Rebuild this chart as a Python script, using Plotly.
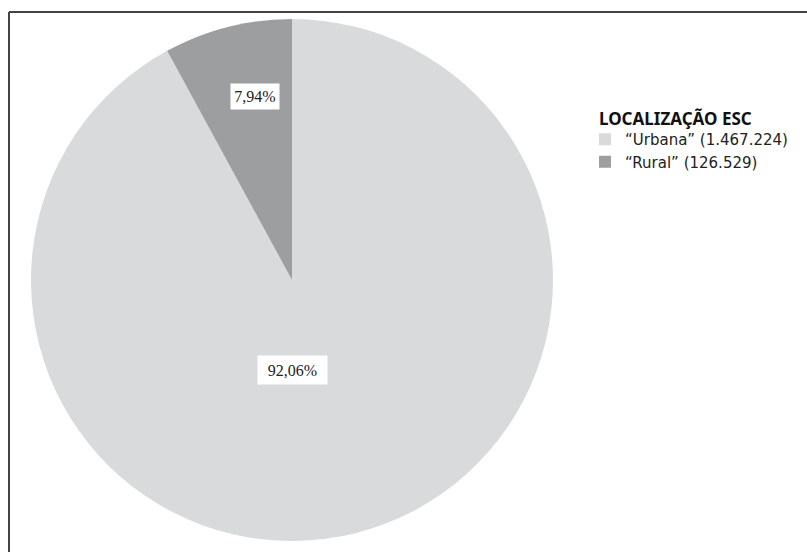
import math
import plotly.graph_objects as go

W, H = 807, 552

categories = ["“Urbana” (1.467.224)", "“Rural” (126.529)"]
values = [1467224, 126529]
pct_labels = ["92,06%", "7,94%"]
colors = ["#d9dadb", "#9d9ea0"]
legend_title = "LOCALIZAÇÃO ESC"

# pie geometry (pixels)
cx, cy, diam = 292, 280, 522

def px_to_paper_x(px):
    return px / W

def px_to_paper_y(py):
    return 1 - py / H

fig = go.Figure()
fig.add_trace(go.Pie(
    labels=categories,
    values=values,
    sort=False,
    direction="clockwise",
    rotation=0,
    marker=dict(colors=colors, line=dict(width=0)),
    textinfo="none",
    hoverinfo="label+percent",
    domain=dict(
        x=[px_to_paper_x(cx - diam / 2), px_to_paper_x(cx + diam / 2)],
        y=[px_to_paper_y(cy + diam / 2), px_to_paper_y(cy - diam / 2)],
    ),
))

# label positions derived from slice angles
total = sum(values)
R = diam / 2
rural_frac = values[1] / total
ang = -rural_frac * math.pi * 0.85
rx = cx + math.sin(ang) * R * 0.72 + 3
ry = cy - math.cos(ang) * R * 0.72
ux = cx + 0.5
uy = cy + R * 0.345

annots = []
for (x, y, t, w, h) in [(ux, uy, pct_labels[0], 69, 28), (rx, ry, pct_labels[1], 48, 25)]:
    annots.append(dict(
        x=px_to_paper_x(x), y=px_to_paper_y(y), xref="paper", yref="paper",
        xanchor="center", yanchor="middle",
        text=t, showarrow=False, bgcolor="white",
        width=w, height=h, borderpad=0, align="center", valign="middle",
        font=dict(family="Liberation Serif, DejaVu Serif, serif", size=16, color="#222"),
    ))

# legend title as text
annots.append(dict(
    x=px_to_paper_x(597), y=px_to_paper_y(118), xref="paper", yref="paper",
    xanchor="left", yanchor="middle", showarrow=False,
    text="<b>" + legend_title + "</b>",
    font=dict(family="Noto Sans", size=17, color="#111"),
))

fig.update_layout(
    width=W, height=H,
    margin=dict(l=0, r=0, t=0, b=0),
    paper_bgcolor="white",
    plot_bgcolor="white",
    annotations=annots,
    showlegend=True,
    legend=dict(
        x=px_to_paper_x(585), y=px_to_paper_y(123),
        xanchor="left", yanchor="top",
        font=dict(family="DejaVu Sans", size=15, color="#222"),
        itemsizing="constant",
        tracegroupgap=0,
        bgcolor="rgba(0,0,0,0)",
    ),
    shapes=[
        dict(type="line", xref="paper", yref="paper",
             x0=px_to_paper_x(9), x1=px_to_paper_x(807),
             y0=px_to_paper_y(12), y1=px_to_paper_y(12),
             line=dict(color="#444444", width=2)),
        dict(type="line", xref="paper", yref="paper",
             x0=px_to_paper_x(9), x1=px_to_paper_x(9),
             y0=px_to_paper_y(12), y1=px_to_paper_y(552),
             line=dict(color="#444444", width=2)),
    ],
)

fig.write_html("out.html", config={"displayModeBar": False},
               post_script="document.body.style.margin='0';document.body.style.padding='0';")
